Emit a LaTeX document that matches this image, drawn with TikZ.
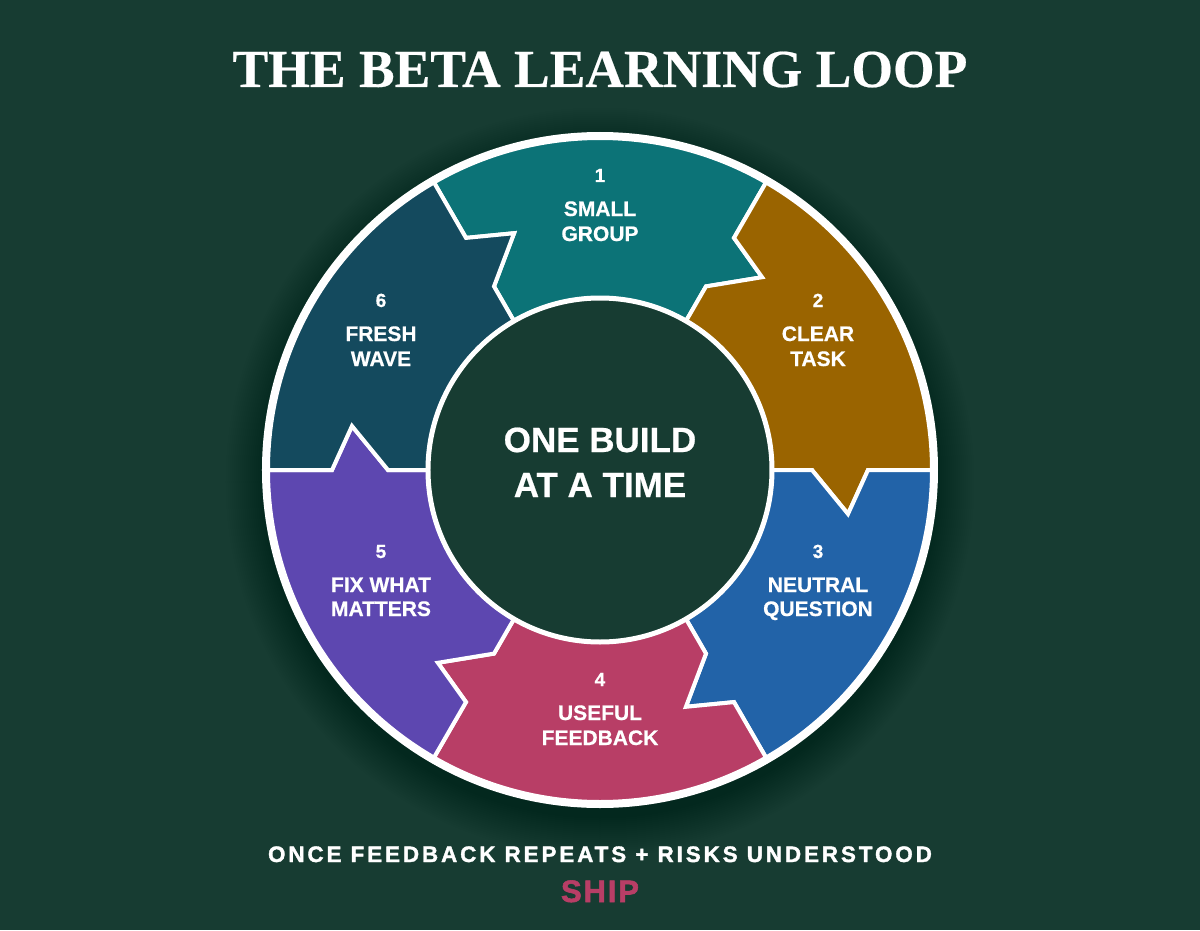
\documentclass[tikz,border=0pt]{standalone}
\usepackage{fontspec}
\setmainfont{Liberation Sans}[BoldFeatures={FakeBold=0.6}]
\newfontfamily\titlefont{Liberation Serif}[BoldFeatures={FakeBold=0.4}]
\newfontfamily\capsfont{Liberation Sans Bold}[LetterSpace=13, FakeBold=1.6]
\newfontfamily\shipfont{Liberation Sans Bold}[LetterSpace=6, FakeBold=1.8]
\definecolor{bg}{HTML}{173C32}
\definecolor{segA}{HTML}{0C7377}
\definecolor{segB}{HTML}{9A6400}
\definecolor{segC}{HTML}{2263A8}
\definecolor{segD}{HTML}{B83E66}
\definecolor{segE}{HTML}{5D47B0}
\definecolor{segF}{HTML}{144A5E}
% #1 = counter-clockwise end angle of the segment, #2 = colour
\newcommand\ringseg[2]{%
  \filldraw[fill=#2, draw=white, line width=4pt, line join=miter]
    (#1:333) -- (#1:268) -- ({#1-10.06}:251.9) -- (#1:212) -- (#1:172)
    arc[start angle=#1, end angle={#1-60}, radius=172]
    -- ({#1-60}:212) -- ({#1-70.06}:251.9) -- ({#1-60}:268) -- ({#1-60}:333)
    arc[start angle={#1-60}, end angle=#1, radius=333] -- cycle;}
\tikzset{
  numlbl/.style={text=white, anchor=base, inner sep=0pt, font=\fontsize{19}{22}\selectfont\bfseries},
  namelbl/.style={text=white, anchor=base, inner sep=0pt, font=\fontsize{21}{25}\selectfont\bfseries},
  hublbl/.style={text=white, anchor=base, inner sep=0pt, font=\fontsize{35}{45}\selectfont\bfseries},
}
\begin{document}
\begin{tikzpicture}[x=1pt,y=1pt]
\useasboundingbox (-600,-460) rectangle (600,470);
\fill[bg] (-600,-460) rectangle (600,470);
% soft shadow
\foreach \i in {1,...,20}{
  \fill[black, opacity=0.014] (0,-12) circle ({334+2*\i});
}
% segments
\ringseg{120}{segA}
\ringseg{60}{segB}
\ringseg{0}{segC}
\ringseg{-60}{segD}
\ringseg{-120}{segE}
\ringseg{-180}{segF}
% outer white rim
\draw[white, line width=8pt] (0,0) circle (334);
% hub
\node[circle, minimum size=344pt, inner sep=0pt, fill=bg, draw=white, line width=5pt] (hub) at (0,0) {};
\node[hublbl] (hubA) at (0,18) {ONE BUILD};
\node[hublbl] (hubB) at (0,-27) {AT A TIME};
% labels
\node[numlbl] (n1) at (0,288) {1};
\node[namelbl] (s1a) at (0,254) {SMALL};
\node[namelbl] (s1b) at (0,229) {GROUP};
\node[numlbl] (n2) at (218,163) {2};
\node[namelbl] (s2a) at (218,129) {CLEAR};
\node[namelbl] (s2b) at (218,104) {TASK};
\node[numlbl] (n3) at (218,-88) {3};
\node[namelbl] (s3a) at (218,-122) {NEUTRAL};
\node[namelbl] (s3b) at (218,-146) {QUESTION};
\node[numlbl] (n4) at (0,-216) {4};
\node[namelbl] (s4a) at (0,-250) {USEFUL};
\node[namelbl] (s4b) at (0,-275) {FEEDBACK};
\node[numlbl] (n5) at (-219,-88) {5};
\node[namelbl] (s5a) at (-219,-122) {FIX WHAT};
\node[namelbl] (s5b) at (-219,-146) {MATTERS};
\node[numlbl] (n6) at (-219,163) {6};
\node[namelbl] (s6a) at (-219,129) {FRESH};
\node[namelbl] (s6b) at (-219,104) {WAVE};
% title and footer
\node[anchor=base, text=white, inner sep=0pt, font=\titlefont\fontsize{53.5}{60}\selectfont\bfseries] (title) at (0,383) {THE BETA LEARNING LOOP};
\node[anchor=base, text=white, inner sep=0pt, font=\capsfont\fontsize{22.4}{26}\selectfont] (cond) at (0,-392) {ONCE FEEDBACK REPEATS + RISKS UNDERSTOOD};
\node[anchor=base, text=segD, inner sep=0pt, font=\shipfont\fontsize{31}{36}\selectfont] (ship) at (0,-432) {SHIP};
\end{tikzpicture}
\end{document}
